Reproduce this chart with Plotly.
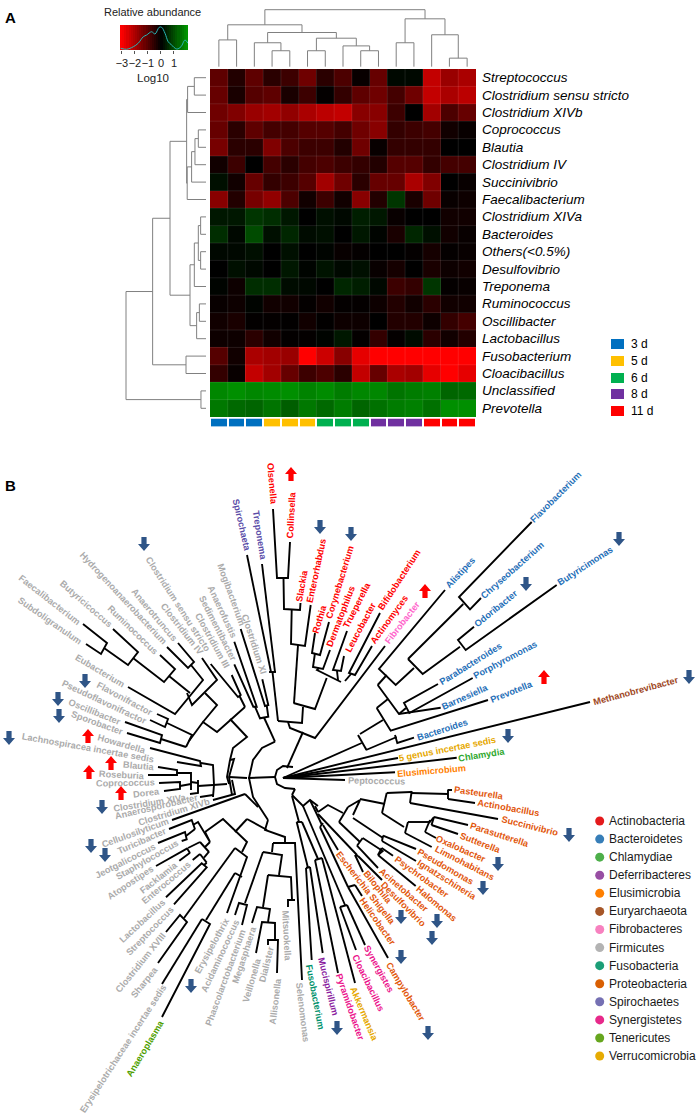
import numpy as np
import plotly.graph_objects as go

W, H = 700, 1117

# ---------- Panel A data ----------
GENERA = ["Streptococcus", "Clostridium sensu stricto", "Clostridium XIVb", "Coprococcus", "Blautia",
          "Clostridium IV", "Succinivibrio", "Faecalibacterium", "Clostridium XIVa", "Bacteroides",
          "Others(<0.5%)", "Desulfovibrio", "Treponema", "Ruminococcus", "Oscillibacter",
          "Lactobacillus", "Fusobacterium", "Cloacibacillus", "Unclassified", "Prevotella"]
ABUNDANCE = [
    [-1.1,-0.4,-1.1,-0.5,-0.7,-1.3,-0.5,-0.9,-0.1,-1.2,0.1,0.1,-2.3,-1.8,-2.0],
    [-1.2,-0.3,-1.0,-1.1,-0.3,-0.7,-0.05,-0.6,-1.1,-1.3,-0.8,-1.3,-2.3,-2.0,-2.2],
    [-1.3,-1.5,-1.8,-1.9,-1.7,-2.0,-2.2,-2.3,-1.6,-1.6,-0.7,0,-1.9,-0.9,-1.2],
    [-1.2,-0.5,-1.1,-0.8,-0.8,-1.0,-1.0,-0.8,-1.3,-1.6,-0.6,-0.7,-0.8,-0.2,-0.1],
    [-1.4,-0.5,-0.5,-1.5,-0.9,-0.7,-0.7,-0.4,-1.3,-0.1,-0.6,-0.6,-0.6,0,0],
    [-0.2,-0.7,0,-0.8,-0.5,-0.8,-0.9,-0.7,-0.6,-0.4,-1.0,-1.0,-0.6,-0.8,-0.8],
    [0.2,-0.2,-1.2,-0.6,-0.7,-1.0,-1.9,-1.3,-0.5,-1.2,-1.2,-2.0,-1.5,0,-0.1],
    [-1.6,-0.4,-1.4,-1.7,-0.9,-0.2,-0.7,-0.2,-1.6,-0.4,0.7,-0.3,-1.3,-0.1,-0.15],
    [0.3,0.3,0.7,0.6,0.3,0,0.2,0.1,0.4,0.3,-0.1,0,0,-0.2,-0.2],
    [0.6,0.1,1.0,0.2,0.5,0.15,0.2,0,0.3,0.05,-0.3,0.5,0.2,-0.2,-0.1],
    [0.1,0.1,0.2,0,0.2,0,0.05,-0.1,-0.05,0,0,-0.05,-0.25,-0.05,-0.1],
    [0,0.2,0.1,0,0.3,0.05,0.25,0.1,0.2,-0.1,-0.25,0,-0.3,-0.15,-0.2],
    [0.05,-0.15,0.6,0.6,0.15,0.1,0,0.5,0.4,0.1,-0.7,-0.6,0.7,-0.05,-0.1],
    [-0.1,-0.15,0.05,-0.2,-0.2,-0.05,-0.2,-0.05,-0.05,-0.15,-0.4,-0.2,-0.5,-0.2,-0.2],
    [-0.2,-0.3,-0.03,-0.05,-0.02,-0.2,-0.02,-0.15,-0.15,0,-0.4,-0.4,-0.15,-0.6,-0.8],
    [-0.15,-0.15,-0.5,-0.2,-0.03,-0.05,0.05,0.3,-0.05,-0.6,-0.05,0.15,-0.5,-0.2,-0.4],
    [-1.0,-0.2,-2.0,-1.9,-1.8,-3,-2.4,-1.6,-2.7,-3,-3,-3,-3,-3,-3],
    [-0.6,-0.1,-2.3,-1.9,-1.2,-0.7,-0.9,-0.5,-2.3,-1.2,-2.0,-1.9,-2.7,-3,-2.7],
    [1.8,1.9,1.8,1.85,1.9,1.75,1.85,1.65,1.8,1.8,1.55,1.65,1.7,1.35,1.4],
    [1.6,1.4,1.35,1.55,1.25,1.6,1.4,1.65,1.35,1.5,1.65,1.7,1.5,1.9,1.9],
]
SAMPLE_DAY = [0,0,0,1,1,1,2,2,2,3,3,3,4,4,4]
DAY_LABELS = ["3 d", "5 d", "6 d", "8 d", "11 d"]
DAY_COLORS = ["#0070C0", "#FFC000", "#00B050", "#7030A0", "#FF0000"]

# linkage tables: (node a, node b, distance); new nodes are numbered after the leaves
COLUMN_LINKAGE = [(0,1,.47),(3,4,.28),(2,16,.42),(5,6,.28),(8,9,.28),(7,19,.365),(18,20,.5),(17,21,.6),
                  (15,22,.735),(10,11,.42),(13,14,.15),(12,25,.56),(24,26,.84),(23,27,1.0)]
ROW_LINKAGE = [(0,1,.146),(20,2,.23),(3,4,.096),(5,22,.138),(6,23,.18),(7,24,.235),(21,25,.242),
               (8,9,.067),(10,11,.067),(27,28,.096),(12,29,.146),(13,14,.083),(31,15,.117),(30,32,.2),
               (26,33,.45),(16,17,.25),(34,35,.667),(18,19,.063),(36,37,1.0)]

KEY_DENSITY_X = [-3.1,-2.64,-2.13,-1.75,-1.36,-1.1,-0.72,-0.46,-0.13,0.05,0.31,0.56,0.82,1.21,1.54,1.85,2.08]
KEY_DENSITY_Y = [.07,.03,.13,.27,.53,.6,.73,.64,.91,.91,.67,.33,.2,.04,.13,.4,.27]

# ---------- Panel B data ----------
PHYLA = ["Actinobacteria","Bacteroidetes","Chlamydiae","Deferribacteres","Elusimicrobia","Euryarchaeota",
         "Fibrobacteres","Firmicutes","Fusobacteria","Proteobacteria","Spirochaetes","Synergistetes",
         "Tenericutes","Verrucomicrobia"]
PHYLUM_DOT = ["#E41A1C","#377EB8","#4DAF4A","#984EA3","#FF7F00","#A65628","#F781BF","#B3B3B3","#1B9E77",
              "#D95F02","#7570B3","#E7298A","#66A61E","#E6AB02"]
PHYLUM_TEXT = ["#FF0000","#1F6FB8","#2EA82E","#8B1FA0","#FF7F00","#A0481E","#FF66CC","#ABABAB","#00916B",
               "#E2570C","#5B4DA8","#EC148C","#4FA000","#E6A800"]

TAXA = {
 "Actinobacteria": ["Olsenella","Collinsella","Slackia","Enterorhabdus","Rothia","Corynebacterium","Dermatophilus",
                    "Trueperella","Leucobacter","Bifidobacterium","Actinomyces"],
 "Bacteroidetes": ["Flavobacterium","Chryseobacterium","Alistipes","Odoribacter","Butyricimonas","Parabacteroides",
                   "Porphyromonas","Barnesiella","Prevotella","Bacteroides"],
 "Chlamydiae": ["Chlamydia"],
 "Deferribacteres": ["Mucispirillum"],
 "Elusimicrobia": ["Elusimicrobium"],
 "Euryarchaeota": ["Methanobrevibacter"],
 "Fibrobacteres": ["Fibrobacter"],
 "Firmicutes": ["Peptococcus","Clostridium XI","Mogibacterium","Anaerofustis","Sedimentibacter","Clostridium III",
                "Clostridium sensu stricto","Clostridium IV","Anaerotruncus","Hydrogenoanaerobacterium","Ruminococcus",
                "Butyricicoccus","Faecalibacterium","Subdoligranulum","Eubacterium","Flavonifractor",
                "Pseudoflavonifractor","Oscillibacter","Sporobacter","Howardella","Lachnospiracea incertae sedis",
                "Blautia","Roseburia","Coprococcus","Dorea","Clostridium XIVa","Anaerosporobacter","Clostridium XIVb",
                "Cellulosilyticum","Turicibacter","Jeotgalicoccus","Staphylococcus","Atopostipes","Facklamia",
                "Enterococcus","Lactobacillus","Streptococcus","Clostridium XVIII","Sharpea",
                "Erysipelotrichaceae incertae sedis","Erysipelothrix","Acidaminococcus","Phascolarctobacterium",
                "Megasphaera","Veillonella","Dialister","Allisonella","Mitsuokella","Selenomonas"],
 "Fusobacteria": ["Fusobacterium"],
 "Proteobacteria": ["Campylobacter","Helicobacter","Escherichia Shigella","Bilophila","Desulfovibrio","Acinetobacter",
                    "Halomonas","Psychrobacter","Ignatzschineria","Pseudomonas","Limnohabitans","Oxalobacter","Sutterella",
                    "Parasutterella","Succinivibrio","Actinobacillus","Pasteurella"],
 "Spirochaetes": ["Treponema","Spirochaeta"],
 "Synergistetes": ["Pyramidobacter","Cloacibacillus","Synergistes"],
 "Tenericutes": ["Anaeroplasma"],
 "Verrucomicrobia": ["Akkermansia","5 genus incertae sedis"],
}

# where each tree label sits: centre x, centre y, text angle
LABEL_PLACE = {
 "Flavobacterium":(556,497,-45),"Chryseobacterium":(512.7,570,-41.5),"Alistipes":(460,572.5,-47),"Odoribacter":(495.5,609,-39),
 "Butyricimonas":(585,565.5,-33),"Parabacteroides":(470.5,664,-32),"Porphyromonas":(505,660,-28),"Barnesiella":(465,697,-24),
 "Prevotella":(511,691.5,-22),"Bacteroides":(442,729.5,-18),"Methanobrevibacter":(636,691,-15),"5 genus incertae sedis":(447.5,748.5,-11),
 "Chlamydia":(481.5,754.5,-9),"Elusimicrobium":(431.5,771,-5),"Peptococcus":(376,780.5,1),"Fibrobacter":(402,622.7,-52),
 "Actinomyces":(389,620,-54),"Bifidobacterium":(399,579.5,-57),"Leucobacter":(360,627.5,-62),"Trueperella":(357,605,-63),
 "Dermatophilus":(340.5,617,-69),"Corynebacterium":(340,582,-73),"Rothia":(319,619.5,-73),"Enterorhabdus":(316.4,571,-78),
 "Slackia":(301.5,585.5,-80),"Collinsella":(291.3,515,-87),"Olsenella":(272,484,85),"Treponema":(259.5,535,81),"Spirochaeta":(241.5,525,77),
 "Clostridium XI":(254,644,72),"Mogibacterium":(231,594,70),"Anaerofustis":(222.3,612,65),"Sedimentibacter":(217.5,628,63),
 "Clostridium III":(212,640,61),"Clostridium sensu stricto":(178,603.7,57),"Clostridium IV":(182,628.7,52),"Anaerotruncus":(154.5,614.5,50),
 "Hydrogenoanaerobacterium":(123,598,47),"Ruminococcus":(132.7,629.7,44),"Butyricicoccus":(86,604,41),"Faecalibacterium":(49.5,600,38),
 "Subdoligranulum":(50,621,35),"Eubacterium":(100,671,31),"Flavonifractor":(125,698.5,28),"Pseudoflavonifractor":(103.7,702.3,25),
 "Oscillibacter":(94.5,711.7,22),"Sporobacter":(97,723,20),"Howardella":(121.7,743.7,16),"Lachnospiracea incertae sedis":(88,748.3,10),
 "Blautia":(138.7,766,5),"Roseburia":(121.7,774.5,3),"Coprococcus":(125,783,-1),"Dorea":(146.7,792.5,-7),"Clostridium XIVa":(150,802.5,-9),
 "Anaerosporobacter":(156,807,-13),"Clostridium XIVb":(174,812,-17),"Cellulosilyticum":(135,833,-20),"Turicibacter":(142,841.3,-24),
 "Jeotgalicoccus":(125.3,860.5,-27),"Staphylococcus":(147,860,-30),"Atopostipes":(130,883,-34),"Facklamia":(158.3,877.5,-38),
 "Enterococcus":(166,883,-40),"Lactobacillus":(142.5,921,-43),"Streptococcus":(150,931,-46),"Clostridium XVIII":(140.5,963,-51),
 "Sharpea":(144.7,982,-51),"Erysipelotrichaceae incertae sedis":(123,1049,-57),"Anaeroplasma":(144.7,1048.5,-59),
 "Erysipelothrix":(211.8,945.7,-61),"Acidaminococcus":(220.3,956,-65),"Phascolarctobacterium":(225.5,978,-70),"Megasphaera":(244,954.5,-72),
 "Veillonella":(252,980,-74),"Dialister":(266,964.5,-76),"Allisonella":(275.5,1001,-83),"Mitsuokella":(287,935.5,87),"Selenomonas":(302.5,1012,83),
 "Fusobacterium":(315.5,996.5,79),"Mucispirillum":(328,986,76),"Pyramidobacter":(350,1007,71),"Akkermansia":(364,1014,67),
 "Cloacibacillus":(368.5,982.5,64),"Synergistes":(379,968.7,61),"Campylobacter":(405.7,992,59),"Helicobacter":(378,921.5,55),
 "Escherichia Shigella":(365.7,887.5,52),"Bilophila":(377.5,887,51),"Desulfovibrio":(403,904,45),"Acinetobacter":(403.5,890,41),
 "Halomonas":(437,903.5,40),"Psychrobacter":(421.7,876.5,36),"Ignatzschineria":(447,880,32),"Pseudomonas":(445.7,867,30),
 "Limnohabitans":(464.5,863,27),"Oxalobacter":(461,849,24),"Sutterella":(480.3,843,21),"Parasutterella":(500,834.5,18),
 "Succinivibrio":(529.5,826,14),"Actinobacillus":(508.5,808.3,10),"Pasteurella":(478.7,792.5,8),
}

TREE_BRANCHES = [
 # root ring and fan
 [(293,767),(283,766),(277,770),(275,777),(277,784),(285,788),(295,789)], [(275,777),(248,778)],
 [(283,778),(361.7,743)], [(283,778),(590,702)], [(283,778),(398,758)], [(283,778),(456.7,757.7)],
 [(283,778),(395,772.3)], [(283,778),(345,780)],
 # Spirochaetes + Actinobacteria
 [(247,555),(271,672)], [(262,564),(275,672)], [(269,672),(276,672)], [(272.5,672),(278,721)],
 [(278,721),(302,723),(303,707)], [(293.5,703),(315,709),(326.7,678)],
 [(273,509),(277,578),(288,578),(290,542)], [(283.5,578),(284,609),(300,610),(300.5,603)],
 [(291.7,610),(291,644),(305,646),(310.7,605)], [(298,645),(294,703)],
 [(315,633),(312,653),(320,655),(329,622)], [(315,653),(313,667),(323,669),(330,650)],
 [(319,668),(317,670),(341,682)], [(347,631),(333,670),(341,671),(344,656)], [(337,671),(338,680)],
 [(380,613),(349,673),(355,675),(372,646)], [(345,681),(351,674)],
 [(288,722),(290,728),(315,738),(385,646)], [(303,732),(287,768)],
 # Bacteroidetes
 [(358,735),(366.5,750)], [(360,734),(383,720)], [(376.7,708),(390.7,730.7),(488,700)], [(376.7,708),(388,699)],
 [(377.7,685),(399,714),(440.7,707.7)], [(438,684),(404,703),(409.3,713),(472.7,678)], [(406,708),(399,714)],
 [(377.7,685),(386.7,675)], [(445,590),(379,669),(395.7,685),(414,668)], [(408,659),(422.7,674),(460,646.7)],
 [(408,659),(463.3,604)], [(474,626.7),(458,640),(465.7,650),(556.7,585)], [(531.7,522),(459,597),(470,609.3),(481,598)],
 [(366,750),(396.7,737)], [(395,735),(397.3,743),(414,737.7)],
 # Proteobacteria and neighbours
 [(295,789),(292,795)], [(292,795),(303,806),(310,800),(318,806)], [(292,796),(299,822)], [(296.7,822),(302,822)],
 [(296.7,822),(308,868)], [(306,868),(310,867)], [(306,868),(311.7,960)], [(310,867),(322.7,953)], [(302,822),(318,859)],
 [(315,860),(322,858)], [(315,860),(338,973)], [(322,858),(355,983)], [(303,806),(345,905)], [(340,907),(347,905)],
 [(340,907),(356,950)], [(347,905),(365,945)], [(310,800),(322,825)], [(320,827),(323,823)], [(323,825),(338,850)],
 [(320,827),(348,887)], [(348,887),(355,885)], [(348,887),(388,958)], [(355,885),(362,896)], [(315,806),(318,812)],
 [(318,812),(328,805),(343,813)], [(318,814),(357,855)], [(355,855),(358,856)], [(355,855),(363,872)], [(358,856),(382,880)],
 [(339,822),(348,807)], [(339,822),(360,842)], [(362.7,838),(357,845.7)], [(362.7,838),(382.7,851),(378,855)],
 [(357,845.7),(378,868)], [(381.7,848),(378,855)], [(381.7,848),(393,855.7)], [(378,855),(415.7,886)],
 [(348,807),(360,800),(353,815)], [(353,818),(383,838)], [(383,835.7),(382,841)], [(383,835.7),(416,849)], [(382,841),(416,861)],
 [(360,799),(385,804)], [(386.7,793),(382,813)], [(386.7,793),(411,792)], [(411.7,791),(410,803)], [(410,803),(498,819)],
 [(411,793),(448,794)], [(448,789.5),(448,799)], [(448,790),(452,790)], [(448,799),(475,803)],
 [(382,813),(404,827)], [(408,822),(405,833)], [(405,833),(431.7,847)], [(408,822),(430,822)], [(430,820),(425,832)],
 [(425,832),(436,838)], [(429,823),(434,817)], [(434,817),(431.5,825)], [(434,817),(468,825)], [(431.5,825),(458,834)],
 # Firmicutes, upper left
 [(83,624),(107,643),(101,654),(86,644)], [(104,648),(128,665),(138,652),(113,629)], [(133,658),(164,682),(175,669),(160,655)],
 [(169,676),(190,693)], [(128,687),(175,714),(203,680),(191,665)], [(167,647),(188,668),(194,662),(178,643)],
 [(187,693),(192,705),(217,680),(202,658)], [(205,693),(217,705),(203,722)],
 [(157,714),(168,719),(165,727),(150,720)], [(167,723),(192,735),(186,747)], [(125,722),(162,735),(160,743),(127,733)],
 [(161,739),(186,747)], [(189,741),(203,722),(217,732),(245,707)], [(230,719),(247,737),(233,748),(230,760)],
 [(210.7,664),(238,697),(240.7,695),(231.7,675)], [(239.5,696),(245,707)],
 [(234.3,641.7),(256.7,706.7),(253.3,706.7),(234.3,664.3)], [(240.7,629),(265,706),(268.3,705),(262.3,679.3)],
 [(255,706.7),(260,718.3),(268.3,716.7),(266.7,705.5)], [(264,717.5),(275,741.7)],
 [(275,741.7),(262,748),(253,760),(249,778),(253,797),(268,820)], [(268,820),(265,830),(285,837),(285,843)],
 [(245,794),(258,807)], [(172,820),(245,794)], [(247,819),(235,832)], [(247,819),(267,830)],
 [(205,832),(223,819),(247,842),(242,852)], [(230,760),(234,759),(229,777),(232,795)], [(230,760),(227,777),(229,784)],
 [(213,785),(227,784)], [(229,777),(247,778)], [(232,780),(235,794),(213,800)],
 # Lachnospiraceae
 [(150,748),(200,761),(201,766),(177,762)], [(201,763),(213,765),(214,785),(213,797)], [(158,767),(177,770),(177,775),(148,775)],
 [(177,773),(191,773),(191,790)], [(159,783),(180,782),(180,789),(164,791)], [(180,786),(191,784)], [(191,782),(198,783)],
 [(198,780),(198,793),(190,794)], [(198,786),(213,785)], [(200,797),(213,795)],
 # Bacilli
 [(169,829),(191.7,820),(195,829.3)], [(158,843),(185,832),(186.7,839.3),(181.7,841)], [(186,836),(195,829)],
 [(193,825),(198,822),(210,842),(205,832)], [(200,842),(209,852)], [(205,847),(210,842)], [(200,842),(188,848)],
 [(186.7,848),(190,853)], [(156,866),(187.3,848.3)], [(179.3,860.7),(190,852.7)], [(200,854),(206.7,862.7)], [(209,851.7),(204,857.7)],
 [(192.7,860),(200,854)], [(166,897.3),(201.7,863.3),(206.7,867.3),(174,904.3)], [(204,865),(206.7,862.7)],
 # Erysipelotrichi and Negativicutes
 [(235,848),(247,857),(227,913)], [(235,873),(242,877)], [(235,873),(206,920)], [(184,918),(235,848)],
 [(166,932),(180,915),(187,922),(158,963)], [(202,919),(210,924),(162,1017)], [(202,919),(162,984)],
 [(273,843),(295,843),(302,980)], [(273,843),(272,852)], [(263,852),(282,855),(279,875)], [(268,875),(291,877),(292,900)],
 [(288,907),(288,900),(295,900)], [(268,875),(263,907)], [(252,923),(257,907),(270,909),(268,922)],
 [(256,953),(262,922),(275,923),(275,939)], [(268,945),(268,940),(278,940),(277,973)], [(263,852),(245,903)],
 [(235,915),(239,903),(247,905),(242,925)],
]

DOWN_ARROWS = [(144,544),(85,681),(58,699),(59,716),(9,738),(102,807),(91,846),(105,855),(191,986),(337,1028),(320,527),(351,534),
               (526,584),(619,539),(689,677),(508,736),(569,835),(498,864),(483,888),(401,917),(437,921),(432,938),(401,957),(428,1033)]
UP_ARROWS = [(291,474),(425,591),(544,677),(88,736),(111,763),(89,772),(121,793)]

# ---------- geometry ----------
HM_L, HM_R, HM_T, HM_B = 210, 476, 69, 417
dom_x = lambda a, b: [a / W, b / W]
dom_y = lambda t, b: [1 - b / H, 1 - t / H]
n_cols, n_rows = len(ABUNDANCE[0]), len(GENERA)
col_w, row_h = (HM_R - HM_L) / n_cols, (HM_B - HM_T) / n_rows
col_px = lambda i: HM_L + col_w * (i + .5)
row_px = lambda i: HM_T + row_h * (i + .5)

REDGREEN = [[0, "#ff0000"], [0.6, "#000000"], [1, "#009600"]]
fig = go.Figure()

# heatmap
fig.add_trace(go.Heatmap(z=ABUNDANCE, xaxis="x2", yaxis="y2", zmin=-3, zmax=2, colorscale=REDGREEN, showscale=False))
# faint cell separators
gx, gy = [], []
for i in range(1, n_cols):
    gx += [i - .5, i - .5, None]; gy += [-.5, n_rows - .5, None]
for j in range(1, n_rows):
    gx += [-.5, n_cols - .5, None]; gy += [j - .5, j - .5, None]
fig.add_trace(go.Scatter(x=gx, y=gy, xaxis="x2", yaxis="y2", mode="lines", hoverinfo="skip",
                         line=dict(color="rgba(255,255,255,0.10)", width=1), showlegend=False))
# sample colour strip
day_scale = []
for i, c in enumerate(DAY_COLORS):
    day_scale += [[i / 5, c], [(i + 1) / 5, c]]
fig.add_trace(go.Heatmap(z=[SAMPLE_DAY], xaxis="x2", yaxis="y3", zmin=0, zmax=5, xgap=2, colorscale=day_scale, showscale=False))
# colour key
key_edges = np.linspace(-3.15, 2.08, 33)
key_mid = (key_edges[:-1] + key_edges[1:]) / 2
fig.add_trace(go.Heatmap(z=[key_mid.tolist()], x=key_mid.tolist(), xaxis="x4", yaxis="y4", zmin=-3, zmax=2,
                         colorscale=REDGREEN, showscale=False))
fig.add_trace(go.Scatter(x=KEY_DENSITY_X, y=KEY_DENSITY_Y, xaxis="x4", yaxis="y5", mode="lines",
                         line=dict(color="#27B5B5", width=1, shape="spline"), showlegend=False))

# dendrograms
def dendrogram(linkage, n_leaves, leaf_pos):
    nodes = {i: (leaf_pos(i), 0.0) for i in range(n_leaves)}
    a_pts, d_pts = [], []
    for k, (a, b, d) in enumerate(linkage):
        (pa, da), (pb, db) = nodes[a], nodes[b]
        a_pts += [pa, pa, pb, pb, None]
        d_pts += [da, d, d, db, None]
        nodes[n_leaves + k] = ((pa + pb) / 2, d)
    return a_pts, d_pts

px, pd = dendrogram(COLUMN_LINKAGE, n_cols, col_px)
fig.add_trace(go.Scatter(x=px, y=[None if v is None else 66.7 - v * 57 for v in pd], mode="lines",
                         line=dict(color="#808080", width=1), showlegend=False))
py, pd = dendrogram(ROW_LINKAGE, n_rows, row_px)
fig.add_trace(go.Scatter(x=[None if v is None else 206 - v * 240 / 3 for v in pd], y=py, mode="lines",
                         line=dict(color="#808080", width=1), showlegend=False))

# tree
tx, ty = [], []
for br in TREE_BRANCHES:
    tx += [p[0] for p in br] + [None]
    ty += [p[1] for p in br] + [None]
fig.add_trace(go.Scatter(x=tx, y=ty, mode="lines", line=dict(color="#000000", width=1.9), showlegend=False))

# arrows
def arrows(centres, sign):
    ax, ay = [], []
    for (cx, cy) in centres:
        outline = [(-2.6, -7), (2.6, -7), (2.6, 0), (6, 0), (0, 7), (-6, 0), (-2.6, 0), (-2.6, -7)]
        ax += [cx + o[0] for o in outline] + [None]
        ay += [cy + sign * o[1] for o in outline] + [None]
    return ax, ay

for centres, sign, col in [(DOWN_ARROWS, 1, "#2F5587"), (UP_ARROWS, -1, "#FF0000")]:
    ax, ay = arrows(centres, sign)
    fig.add_trace(go.Scatter(x=ax, y=ay, mode="lines", fill="toself", fillcolor=col, line=dict(color=col, width=0),
                             showlegend=False))

# phylum legend
leg_y = [821 + 18.08 * i for i in range(len(PHYLA))]
fig.add_trace(go.Scatter(x=[599.7] * len(PHYLA), y=leg_y, mode="markers",
                         marker=dict(size=9, color=PHYLUM_DOT), showlegend=False))

ANN = []
def text(x, y, s, size, color="#000000", angle=0, xanchor="center", family="Liberation Sans", **kw):
    ANN.append(dict(x=x, y=y, xref="x", yref="y", text=s, showarrow=False, xanchor=xanchor, yanchor="middle",
                    textangle=angle, font=dict(size=size, color=color, family=family), **kw))

for phy, names in TAXA.items():
    col = PHYLUM_TEXT[PHYLA.index(phy)]
    for n in names:
        x, y, a = LABEL_PLACE[n]
        text(x, y, "<b>%s</b>" % n, 9.2, col, a)
for i, p in enumerate(PHYLA):
    text(607, leg_y[i], p, 12, "#1a1a1a", xanchor="left")
for i, g in enumerate(GENERA):
    text(480, row_px(i), "<i>%s</i>" % g, 13.5, "#000000", xanchor="left")
# day legend
day_y = [344, 361, 378, 394, 411]
shapes = []
for y, lab, c in zip(day_y, DAY_LABELS, DAY_COLORS):
    shapes.append(dict(type="rect", xref="x", yref="y", x0=611, x1=624, y0=y - 5, y1=y + 5, fillcolor=c, line_width=0))
    text(629, y, lab, 12, "#000000", xanchor="left")
text(152, 12, "Relative abundance", 11, "#222222")
text(153, 78, "Log10", 11.5, "#222222")
text(10, 17, "<b>A</b>", 15, "#000000")
text(10, 485.5, "<b>B</b>", 15, "#000000")

off = dict(visible=False, fixedrange=True, automargin=False)
fig.update_layout(
    template="none",
    width=W, height=H, margin=dict(l=0, r=0, t=0, b=0, pad=0), autosize=False, plot_bgcolor="white", paper_bgcolor="white",
    showlegend=False, annotations=ANN, shapes=shapes,
    xaxis=dict(range=[0, W], domain=[0, 1], **off),
    yaxis=dict(range=[H, 0], domain=[0, 1], **off),
    xaxis2=dict(range=[-.5, n_cols - .5], domain=dom_x(HM_L, HM_R), anchor="y2", **off),
    yaxis2=dict(range=[n_rows - .5, -.5], domain=dom_y(HM_T, HM_B), anchor="x2", **off),
    yaxis3=dict(range=[-.5, .5], domain=dom_y(418.5, 426.7), anchor="x2", **off),
    xaxis4=dict(range=[-3.15, 2.08], domain=dom_x(120, 188), anchor="y4", tickvals=[-3, -2, -1, 0, 1],
                ticktext=["\u22123", "\u22122", "\u22121", "0", "1"], ticks="outside", ticklen=3, tickcolor="#555",
                tickangle=0, automargin=False,
                tickfont=dict(size=11, family="Liberation Sans", color="#222222"), showline=False, showgrid=False,
                zeroline=False, fixedrange=True),
    yaxis4=dict(range=[-.5, .5], domain=dom_y(25, 50), anchor="x4", **off),
    yaxis5=dict(range=[0, 1], domain=dom_y(25, 50), anchor="x4", overlaying="y4", **off),
)
fig.write_html("out.html", config=dict(displayModeBar=False, responsive=False),
               post_script="document.body.style.margin='0';document.documentElement.style.overflow='hidden';")
